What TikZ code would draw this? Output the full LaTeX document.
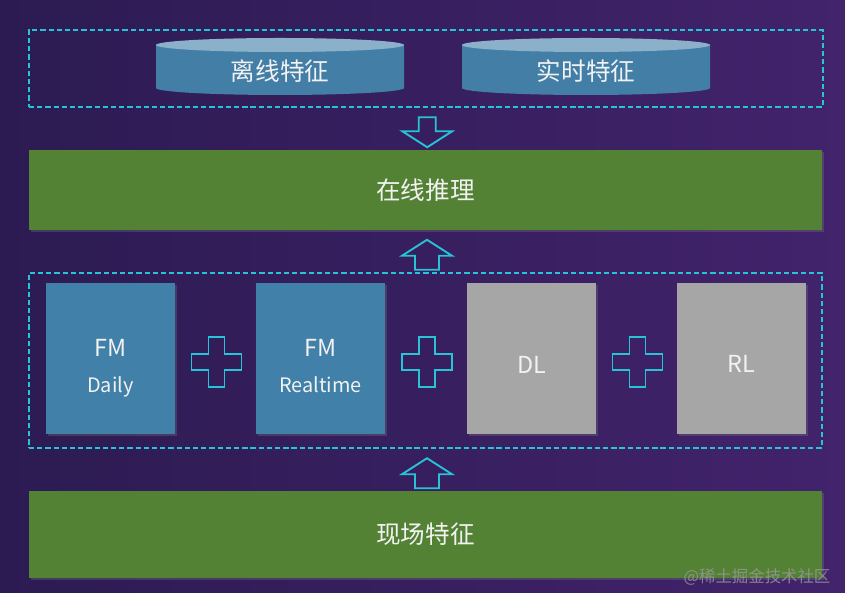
\documentclass[tikz,border=0pt]{standalone}
\usepackage{fontspec}
\newfontfamily\cjk{Noto Sans CJK SC}
\usetikzlibrary{shadows}
\usetikzlibrary{positioning}
\usetikzlibrary{calc}
\definecolor{bgleft}{RGB}{44,27,82}
\definecolor{bgright}{RGB}{66,35,108}
\definecolor{linecyan}{RGB}{38,196,214}
\definecolor{bargreen}{RGB}{84,130,53}
\definecolor{boxblue}{RGB}{65,128,168}
\definecolor{boxgrey}{RGB}{166,166,166}
\definecolor{cylbody}{RGB}{66,126,166}
\definecolor{cyltop}{RGB}{138,176,202}
\definecolor{txtwhite}{RGB}{242,242,242}
\def\pxu{0.03cm}
\tikzstyle{dashbox}=[draw=linecyan,dash pattern=on 4.5pt off 2.5pt,line width=1.2pt,inner sep=0pt]
\tikzstyle{greenbar}=[fill=bargreen,minimum width=793*\pxu,minimum height=80*\pxu,inner sep=0pt,drop shadow={shadow xshift=1.5pt,shadow yshift=-1.5pt,opacity=0.3},text=txtwhite,font=\cjk\fontsize{21}{25}\selectfont]
\tikzstyle{modbox}=[minimum width=129*\pxu,minimum height=151*\pxu,inner sep=0pt,drop shadow={shadow xshift=1.5pt,shadow yshift=-1.5pt,opacity=0.3}]
\tikzstyle{boxtext}=[text=txtwhite,font=\cjk\fontsize{20}{24}\selectfont,anchor=base,inner sep=0pt]
\tikzstyle{subtext}=[boxtext,font=\cjk\fontsize{17}{20}\selectfont]
\tikzstyle{cyltext}=[text=txtwhite,font=\cjk\fontsize{21}{25}\selectfont,inner sep=0pt]
\tikzstyle{hollow}=[draw=linecyan,line width=1.6pt,line join=miter]
\tikzstyle{watermark}=[text=gray!80,opacity=0.8,font=\cjk\fontsize{14}{16}\selectfont,inner sep=0pt]

\begin{document}
\begin{tikzpicture}[x=\pxu,y=\pxu]

  \useasboundingbox (0,0) rectangle (845,593);
  \shade[left color=bgleft,right color=bgright] (0,0) rectangle (845,593);

  % feature stores
  \node[dashbox,minimum width=794*\pxu,minimum height=77*\pxu] (store) at (426,524.5) {};
  \foreach \cx/\name/\txt in {280/offline/离线特征, 586/realtime/实时特征} {
    \fill[cylbody] (\cx-124,548) -- (\cx-124,505) arc[start angle=180,end angle=360,x radius=124,y radius=7] -- (\cx+124,548) -- cycle;
    \fill[cyltop] (\cx,548) ellipse[x radius=124,y radius=7];
    \node[cyltext] (\name) at (\cx,522) {\txt};
  }

  \node[greenbar] (infer) at (425.5,403) {在线推理};

  % models
  \node[dashbox,minimum width=793*\pxu,minimum height=175*\pxu] (model) at (425.5,232.5) {};
  \foreach \pos/\name/\col in {{(110.5,234)}/fmd/boxblue, {(320.5,234)}/fmr/boxblue, {(531.5,234)}/dl/boxgrey, {(741.5,234)}/rl/boxgrey}
    \node[modbox,fill=\col] (\name) at \pos {};

  \node[boxtext] (fmdtop) at ([yshift=2*\pxu]fmd.center) {FM};
  \node[subtext] (fmdsub) at ([yshift=-34*\pxu]fmd.center) {Daily};
  \node[boxtext] (fmrtop) at ([yshift=2*\pxu]fmr.center) {FM};
  \node[subtext] (fmrsub) at ([yshift=-34*\pxu]fmr.center) {Realtime};
  \node[boxtext] (dltxt) at ([yshift=-15*\pxu]dl.center) {DL};
  \node[boxtext] (rltxt) at ([yshift=-14*\pxu]rl.center) {RL};

  \foreach \a/\b in {fmd/fmr, fmr/dl, dl/rl} {
    \coordinate (p) at ($(\a.east)!0.5!(\b.west)+(1,-3)$);
    \draw[hollow,shift={(p)}] (-8,25) -- (8,25) -- (8,8) -- (25,8) -- (25,-8) -- (8,-8) -- (8,-25) -- (-8,-25) -- (-8,-8) -- (-25,-8) -- (-25,8) -- (-8,8) -- cycle;
  }

  \node[greenbar,minimum height=87*\pxu] (scene) at (425.5,58.5) {现场特征};

  % block arrows between layers
  \foreach \a/\b/\s/\w in {store.south/infer.north/-1/8.5, model.north/infer.south/1/12, scene.north/model.south/1/12} {
    \coordinate (m) at ($(\a)!0.5!(\b)+(1.5,-3.5)$);
    \draw[hollow,shift={(m)}] (-\w,-15*\s) -- (-\w,-1*\s) -- (-25,-1*\s) -- (0,15*\s) -- (25,-1*\s) -- (\w,-1*\s) -- (\w,-15*\s) -- cycle;
  }

  \node[watermark] (wm) at (757,16) {@稀土掘金技术社区};

\end{tikzpicture}
\end{document}
